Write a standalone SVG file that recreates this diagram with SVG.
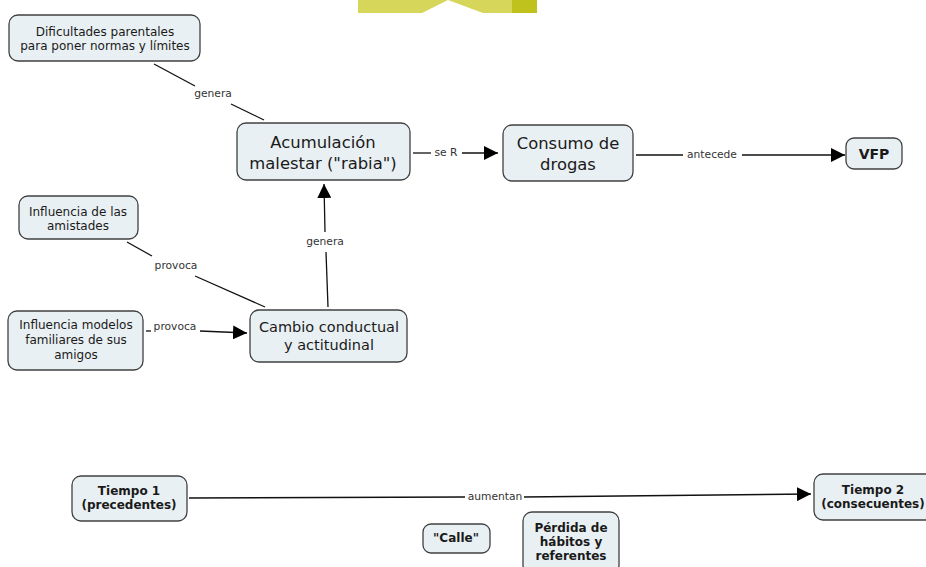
<svg xmlns="http://www.w3.org/2000/svg" width="926" height="567" viewBox="0 0 926 567">
  <defs>
    <style>
      .box { fill: #e9f0f3; stroke: #404040; stroke-width: 1.3; }
      .t { font-family: "DejaVu Sans", Verdana, sans-serif; fill: #1a1a1a; text-anchor: middle; }
      .s { font-size: 12px; }
      .m { font-size: 16.4px; }
      .b { font-weight: bold; font-size: 12px; }
      .lbl { font-family: "DejaVu Sans", Verdana, sans-serif; font-size: 10.7px; fill: #333; text-anchor: middle; }
      .ln { stroke: #111; stroke-width: 1.3; fill: none; }
    </style>
    <marker id="arr" viewBox="0 0 10 10" refX="10" refY="5" markerWidth="14" markerHeight="14" markerUnits="userSpaceOnUse" orient="auto">
      <path d="M0,0 L10,5 L0,10 z" fill="#000"/>
    </marker>
  </defs>

  <rect width="926" height="567" fill="#fff"/>

  <!-- banner shape at the top -->
  <g id="banner">
    <polygon points="358,0 512,0 512,13 483,13 448,0 422,13 358,13" fill="#d5d65a"/>
    <rect x="512" y="0" width="25" height="13" fill="#bfc11c"/>
  </g>

  <g id="connectors">
    <!-- Dificultades -> Acumulación -->
    <line class="ln" x1="154" y1="64" x2="195" y2="86"/>
    <line class="ln" x1="231" y1="104" x2="264" y2="120"/>
    <text class="lbl" x="213" y="97">genera</text>

    <!-- Acumulación -> Consumo -->
    <line class="ln" x1="413" y1="153" x2="431" y2="153"/>
    <line class="ln" x1="462" y1="153" x2="498" y2="153" marker-end="url(#arr)"/>
    <text class="lbl" x="446" y="156">se R</text>

    <!-- Consumo -> VFP -->
    <line class="ln" x1="636" y1="155" x2="683" y2="155"/>
    <line class="ln" x1="742" y1="155" x2="845" y2="155" marker-end="url(#arr)"/>
    <text class="lbl" x="712" y="158">antecede</text>

    <!-- Influencia amistades -> Cambio -->
    <line class="ln" x1="127" y1="242" x2="152" y2="256"/>
    <line class="ln" x1="195" y1="276" x2="265" y2="307"/>
    <text class="lbl" x="176" y="269">provoca</text>

    <!-- Influencia modelos -> Cambio -->
    <line class="ln" x1="146" y1="331" x2="151" y2="331"/>
    <line class="ln" x1="200" y1="331" x2="247" y2="333" marker-end="url(#arr)"/>
    <text class="lbl" x="175" y="330">provoca</text>

    <!-- Cambio -> Acumulación -->
    <line class="ln" x1="328" y1="307" x2="326" y2="252"/>
    <line class="ln" x1="325" y1="232" x2="324" y2="184" marker-end="url(#arr)"/>
    <text class="lbl" x="325" y="245">genera</text>

    <!-- Tiempo 1 -> Tiempo 2 -->
    <line class="ln" x1="189" y1="498" x2="465" y2="497"/>
    <line class="ln" x1="524" y1="497" x2="811" y2="494" marker-end="url(#arr)"/>
    <text class="lbl" x="495" y="500">aumentan</text>
  </g>

  <g id="dificultades">
    <rect class="box" x="9" y="15" width="191" height="46" rx="9"/>
    <text class="t s" x="105" y="36">Dificultades parentales</text>
    <text class="t s" x="105" y="50">para poner normas y límites</text>
  </g>

  <g id="acumulacion">
    <rect class="box" x="237" y="123" width="173" height="57" rx="9"/>
    <text class="t m" x="323" y="148">Acumulación</text>
    <text class="t m" x="323" y="169">malestar ("rabia")</text>
  </g>

  <g id="consumo">
    <rect class="box" x="503" y="125" width="130" height="56" rx="9"/>
    <text class="t m" x="568" y="149">Consumo de</text>
    <text class="t m" x="568" y="170">drogas</text>
  </g>

  <g id="vfp">
    <rect class="box" x="846" y="138" width="56" height="31" rx="8"/>
    <text class="t" x="874" y="159" font-size="14" font-weight="bold">VFP</text>
  </g>

  <g id="amistades">
    <rect class="box" x="19" y="196" width="119" height="43" rx="9"/>
    <text class="t s" x="78" y="216">Influencia de las</text>
    <text class="t s" x="78" y="230">amistades</text>
  </g>

  <g id="modelos">
    <rect class="box" x="8" y="311" width="135" height="59" rx="9"/>
    <text class="t s" x="76" y="329">Influencia modelos</text>
    <text class="t s" x="76" y="344">familiares de sus</text>
    <text class="t s" x="76" y="359">amigos</text>
  </g>

  <g id="cambio">
    <rect class="box" x="250" y="310" width="157" height="52" rx="9"/>
    <text class="t" x="329" y="332" font-size="14.5">Cambio conductual</text>
    <text class="t" x="329" y="350" font-size="14.5">y actitudinal</text>
  </g>

  <g id="tiempo1">
    <rect class="box" x="72" y="476" width="115" height="45" rx="9"/>
    <text class="t b" x="129" y="495">Tiempo 1</text>
    <text class="t b" x="129" y="509">(precedentes)</text>
  </g>

  <g id="tiempo2">
    <rect class="box" x="814" y="474" width="122" height="46" rx="9"/>
    <text class="t b" x="873" y="494">Tiempo 2</text>
    <text class="t b" x="873" y="508">(consecuentes)</text>
  </g>

  <g id="calle">
    <rect class="box" x="423" y="524" width="67" height="29" rx="8"/>
    <text class="t b" x="456" y="542">"Calle"</text>
  </g>

  <g id="perdida">
    <rect class="box" x="523" y="512" width="96" height="62" rx="9"/>
    <text class="t b" x="571" y="532">Pérdida de</text>
    <text class="t b" x="571" y="546">hábitos y</text>
    <text class="t b" x="571" y="560">referentes</text>
  </g>
</svg>
